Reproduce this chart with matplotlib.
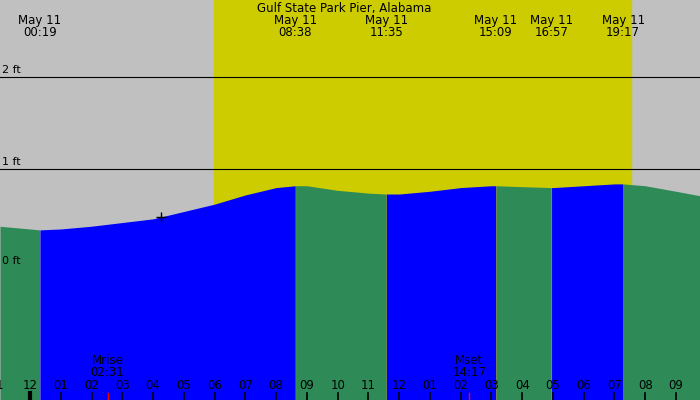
import numpy as np
import matplotlib.pyplot as plt

# tide height (ft), hours since midnight May 11
hours = [-1.0, 0.0, 0.32, 1, 2, 3, 4, 5, 6, 7, 8, 8.63, 9, 10, 11, 11.58, 12, 13, 14, 15,
         15.15, 16, 16.95, 17, 18, 19, 19.28, 20, 21, 21.8]
height = [0.38, 0.35, 0.34, 0.35, 0.38, 0.42, 0.46, 0.54, 0.62, 0.72, 0.80, 0.82, 0.82, 0.77,
          0.74, 0.73, 0.73, 0.76, 0.80, 0.82, 0.82, 0.81, 0.80, 0.80, 0.82, 0.84, 0.84, 0.82,
          0.76, 0.71]
extremes = [0.32, 8.63, 11.58, 15.15, 16.95, 19.28]
extreme_labels = ["00:19", "08:38", "11:35", "15:09", "16:57", "19:17"]
sunrise, sunset = 5.98, 19.55
tick_labels = ["1", "12", "01", "02", "03", "04", "05", "06", "07", "08", "09", "10", "11",
               "12", "01", "02", "03", "04", "05", "06", "07", "08", "09"]
moon = [(2.52, "Mrise\n02:31"), (14.28, "Mset\n14:17")]
now = (4.25, 0.48)

x0, x1 = -0.975, 21.78
y0, y1 = -1.51, 2.84
fig = plt.figure(figsize=(7, 4), dpi=100)
ax = fig.add_axes([0, 0, 1, 1])
ax.set_xlim(x0, x1)
ax.set_ylim(y0, y1)
ax.axis("off")
ax.set_facecolor("#c0c0c0")
ax.axvspan(x0, x1, color="#c0c0c0", zorder=0)
ax.axvspan(sunrise, sunset, color="#cccc00", zorder=0)
for lv in [1, 2]:
    ax.axhline(lv, color="black", lw=0.8, zorder=1)
    ax.text(x0 + 0.05, lv + 0.02, "%d ft" % lv, fontsize=8, va="bottom", zorder=5)
ax.text(x0 + 0.05, 0, "0 ft", fontsize=8, va="center", zorder=5)

h = np.array(hours)
v = np.array(height)
xs = np.linspace(x0, x1, 2000)
ys = np.interp(xs, h, v)
bounds = [x0] + extremes + [x1]
for i in range(len(bounds) - 1):
    m = (xs >= bounds[i]) & (xs <= bounds[i + 1])
    col = "#0000ff" if i % 2 == 1 else "#2e8b57"
    ax.fill_between(xs[m], y0, ys[m], color=col, lw=0, zorder=2)

ax.text(10.2, y1 - 0.02, "Gulf State Park Pier, Alabama", ha="center", va="top", fontsize=8.5)
for e, lab in zip(extremes, extreme_labels):
    ax.text(e, y1 - 0.15, "May 11\n" + lab, ha="center", va="top", fontsize=8.5, linespacing=0.95)

for i, lab in enumerate(tick_labels):
    hr = i - 1
    ax.text(hr, -1.35, lab, ha="center", va="center", fontsize=8.5, zorder=5)
    ax.plot([hr, hr], [y0, -1.43], color="black", lw=3 if hr == 0 else 1.2, zorder=5)
for t, lab in moon:
    ax.text(t, -1.15, lab, ha="center", va="center", fontsize=8.5, linespacing=0.9, zorder=5)
    ax.plot([t, t], [y0, -1.43], color="red", lw=1, zorder=5)
ax.plot(*now, marker="+", color="black", ms=7, zorder=6)

fig.savefig("out.png", dpi=100)
